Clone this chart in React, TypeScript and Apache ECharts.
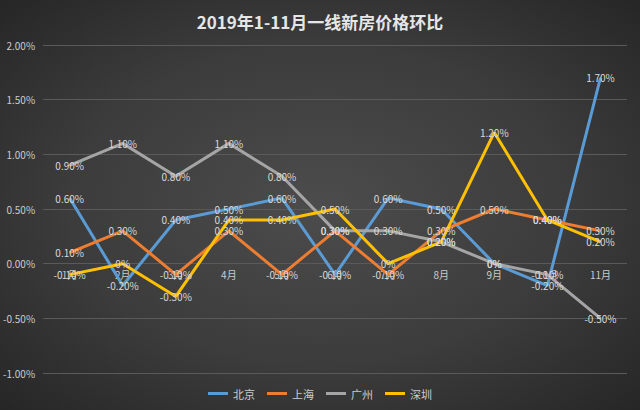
import React, { useEffect, useRef } from "react";
import * as echarts from "echarts";

const months = ["1月", "2月", "3月", "4月", "5月", "6月", "7月", "8月", "9月", "10月", "11月"];
const beijing = [0.6, -0.2, 0.4, 0.5, 0.6, -0.1, 0.6, 0.5, 0, -0.2, 1.7];
const shanghai = [0.1, 0.3, -0.1, 0.3, -0.1, 0.3, -0.1, 0.3, 0.5, 0.4, 0.3];
const guangzhou = [0.9, 1.1, 0.8, 1.1, 0.8, 0.3, 0.3, 0.2, 0, -0.1, -0.5];
const shenzhen = [-0.1, 0, -0.3, 0.4, 0.4, 0.5, 0, 0.2, 1.2, 0.4, 0.2];
const seriesNames = ["北京", "上海", "广州", "深圳"];
const seriesData = [beijing, shanghai, guangzhou, shenzhen];
const colors = ["#5b9bd5", "#ed7d31", "#a5a5a5", "#ffc000"];

const FONT = "'Noto Sans CJK SC', 'Noto Sans', sans-serif";

const pct = (v: number) => (v === 0 ? "0%" : v.toFixed(2) + "%");

const GRID_TOP = 45;
const GRID_BOTTOM = 37;
const Y_MIN = -1;
const Y_MAX = 2;

export default function App() {
  const ref = useRef<HTMLDivElement>(null);
  useEffect(() => {
    document.body.style.margin = "0";
    const chart = echarts.init(ref.current!, undefined, { renderer: "svg" });
    const gridH = 410 - GRID_TOP - GRID_BOTTOM;
    const zeroOffset = (gridH * (0 - Y_MIN)) / (Y_MAX - Y_MIN);
    chart.setOption({
      animation: false,
      backgroundColor: "transparent",
      title: {
        text: "2019年1-11月一线新房价格环比",
        left: "center",
        top: 8,
        textStyle: { color: "#e6e6e6", fontSize: 17, fontWeight: "bold", fontFamily: FONT },
      },
      legend: {
        bottom: 6,
        left: "center",
        itemWidth: 20,
        itemHeight: 3,
        itemGap: 12,
        icon: "rect",
        textStyle: { color: "#cccccc", fontSize: 11, fontFamily: FONT },
        data: seriesNames,
      },
      grid: { left: 43, right: 13, top: GRID_TOP, bottom: GRID_BOTTOM, containLabel: false },
      xAxis: {
        type: "category",
        data: months,
        boundaryGap: true,
        offset: -zeroOffset,
        axisLine: { show: false, onZero: false },
        axisTick: { show: false },
        axisLabel: { color: "#cccccc", fontSize: 10, fontFamily: FONT, margin: 6 },
      },
      yAxis: {
        type: "value",
        min: Y_MIN,
        max: Y_MAX,
        interval: 0.5,
        axisLine: { show: false },
        axisTick: { show: false },
        axisLabel: {
          color: "#cccccc",
          fontSize: 10,
          fontFamily: FONT,
          margin: 8,
          formatter: (v: number) => v.toFixed(2) + "%",
        },
        splitLine: { lineStyle: { color: "#5a5a5a", width: 1 } },
      },
      series: seriesNames.map((name, i) => ({
        name,
        type: "line",
        data: seriesData[i],
        symbol: "circle",
        symbolSize: 1,
        showSymbol: true,
        lineStyle: { color: colors[i], width: 3 },
        itemStyle: { color: colors[i] },
        label: {
          show: true,
          position: "inside",
          color: "#d9d9d9",
          fontSize: 10,
          fontFamily: FONT,
          formatter: (p: any) => pct(p.value),
        },
        labelLayout: { hideOverlap: false },
      })),
    });
    return () => chart.dispose();
  }, []);
  return (
    <div
      style={{
        position: "absolute",
        left: 0,
        top: 0,
        width: 640,
        height: 410,
        background: "radial-gradient(ellipse at 50% 50%, #4c4c4c 0%, #3c3c3c 55%, #262626 100%)",
      }}
    >
      <div ref={ref} style={{ width: 640, height: 410 }} />
    </div>
  );
}
